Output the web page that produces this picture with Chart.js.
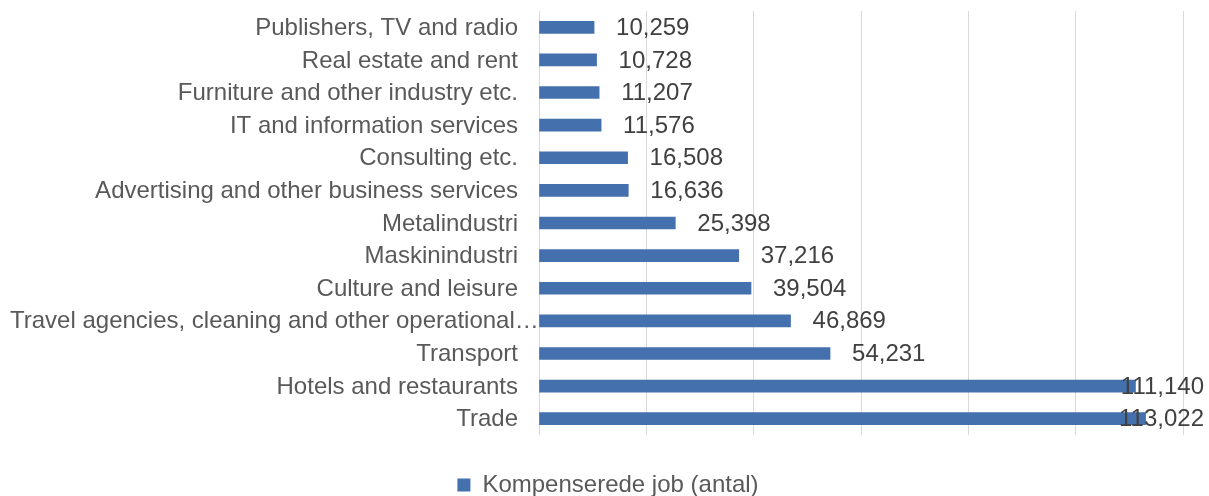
<!DOCTYPE html>
<html>
<head>
<meta charset="utf-8">
<script src="https://cdn.jsdelivr.net/npm/chart.js@4"></script>
<style>
  html, body { margin: 0; padding: 0; background: #fff; }
  #wrap { width: 1209px; height: 496px; }
</style>
</head>
<body>
<div id="wrap"><canvas id="chart" width="1209" height="496"></canvas></div>
<script>
// ---------------------------------------------------------------------------
// Data
// ---------------------------------------------------------------------------

const categories = [
  'Publishers, TV and radio',
  'Real estate and rent',
  'Furniture and other industry etc.',
  'IT and information services',
  'Consulting etc.',
  'Advertising and other business services',
  'Metalindustri',
  'Maskinindustri',
  'Culture and leisure',
  'Travel agencies, cleaning and other operational\u2026',
  'Transport',
  'Hotels and restaurants',
  'Trade'
];
const jobs = [10259, 10728, 11207, 11576, 16508, 16636, 25398, 37216, 39504, 46869, 54231, 111140, 113022];
const seriesLabel = 'Kompenserede job (antal)';
const xMax = 120000;
const xStep = 20000;

const FONT = '"Liberation Sans", Arial, sans-serif';

// category labels drawn by hand so the over-long one can run past the axis edge
const categoryLabels = {
  id: 'categoryLabels',
  afterDraw(chart) {
    const ctx = chart.ctx;
    const y = chart.scales.y;
    const right = chart.chartArea.left - 21;
    ctx.save();
    ctx.font = '24px ' + FONT;
    ctx.fillStyle = '#595959';
    ctx.textBaseline = 'middle';
    categories.forEach((c, i) => {
      const w = ctx.measureText(c).width;
      const py = y.getPixelForTick(i) + 1;
      if (right - w < 10) {
        ctx.textAlign = 'left';
        ctx.fillText(c, 10, py);
      } else {
        ctx.textAlign = 'right';
        ctx.fillText(c, right, py);
      }
    });
    ctx.restore();
  }
};

// value labels just past the bar end, pulled back inside the canvas if they overflow
const valueLabels = {
  id: 'valueLabels',
  afterDatasetsDraw(chart) {
    const ctx = chart.ctx;
    const meta = chart.getDatasetMeta(0);
    ctx.save();
    ctx.font = '24px ' + FONT;
    ctx.fillStyle = '#404040';
    ctx.textAlign = 'left';
    ctx.textBaseline = 'middle';
    meta.data.forEach((bar, i) => {
      const txt = jobs[i].toLocaleString('en-US');
      const w = ctx.measureText(txt).width;
      let x = bar.x + 22;
      if (x + w > chart.width - 5) x = chart.width - 5 - w;
      ctx.fillText(txt, x, bar.y + 1);
    });
    ctx.restore();
  }
};

new Chart(document.getElementById('chart'), {
  type: 'bar',
  data: {
    labels: categories,
    datasets: [{
      label: seriesLabel,
      data: jobs,
      backgroundColor: '#4470ad',
      barThickness: 12
    }]
  },
  options: {
    indexAxis: 'y',
    responsive: false,
    animation: false,
    layout: { padding: { top: 11, right: 26, left: 33, bottom: -11 } },
    plugins: {
      legend: {
        position: 'bottom',
        labels: {
          font: { family: FONT, size: 24 },
          color: '#595959',
          boxWidth: 13,
          boxHeight: 13,
          padding: 0
        }
      },
      tooltip: { enabled: false }
    },
    scales: {
      x: {
        min: 0,
        max: xMax,
        ticks: { display: false, stepSize: xStep },
        grid: { color: '#d9d9d9', lineWidth: 1, drawTicks: false },
        border: { display: false },
        afterFit(s) { s.height = 38; }
      },
      y: {
        grid: { display: false, drawTicks: false },
        border: { display: false },
        ticks: { display: false },
        afterFit(s) { s.width = 506; }
      }
    }
  },
  plugins: [valueLabels, categoryLabels]
});
</script>
</body>
</html>
